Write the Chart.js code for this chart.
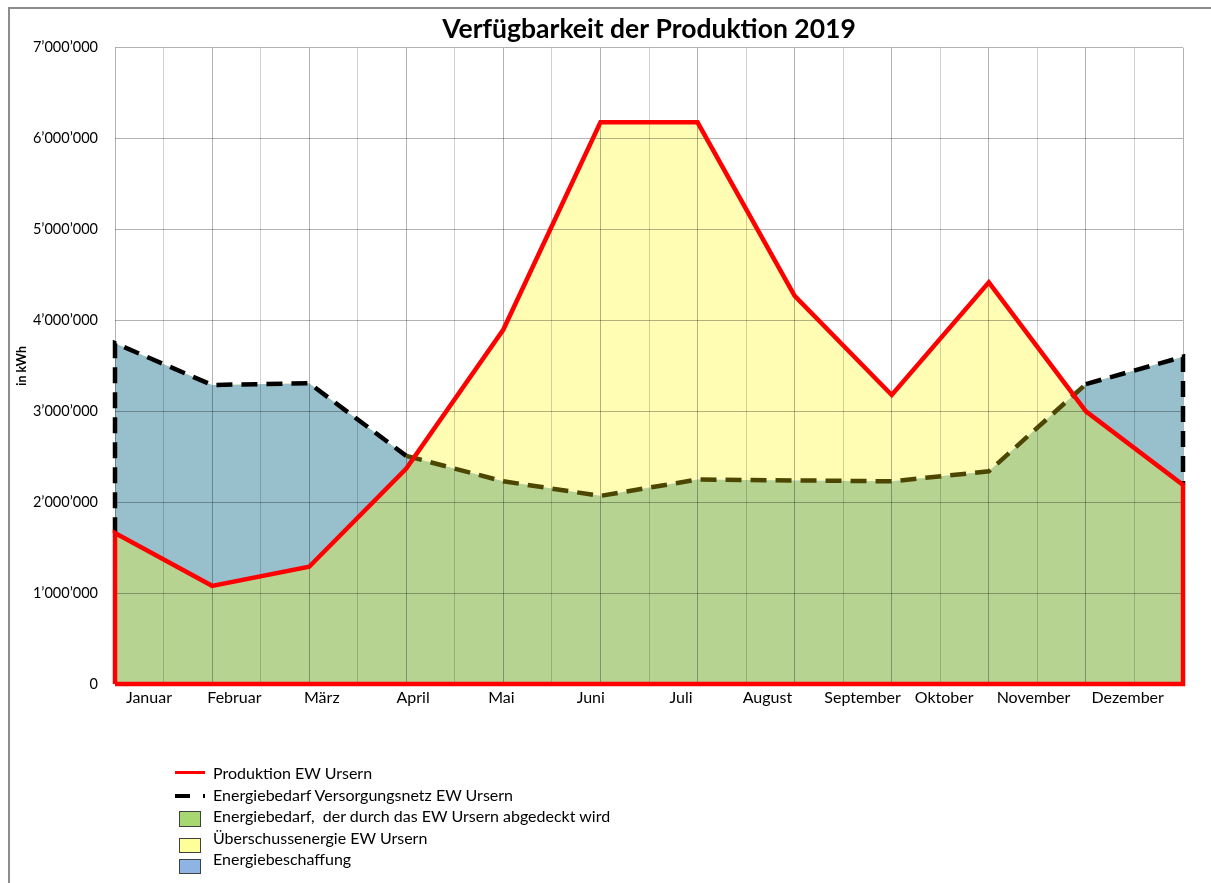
<!DOCTYPE html>
<html>
<head>
<meta charset="utf-8">
<script src="https://cdn.jsdelivr.net/npm/chart.js@4.4.1/dist/chart.umd.min.js"></script>
<style>
  html, body { margin: 0; padding: 0; background: #fff; }
  body { width: 1211px; height: 883px; position: relative; overflow: hidden; font-family: Lato, sans-serif; }
  #rahmen { position: absolute; left: 8px; top: 7px; width: 1300px; height: 1000px;
            border-left: 2px solid #8c8c8c; border-top: 2px solid #8c8c8c; }
  #wrap { position: absolute; left: 0; top: 0; width: 1211px; height: 883px; }
  .txt { position: absolute; left: 213px; font-size: 16px; line-height: 18px; color: #000; white-space: pre; }
  .sym { position: absolute; }
  .box { position: absolute; left: 179px; width: 20px; height: 14px; border: 1px solid #404040; }
</style>
</head>
<body>
<div id="rahmen"></div>
<div id="wrap"><canvas id="grafik" width="1211" height="883"></canvas></div>

<div class="sym" style="left:175px; top:771px; width:30px; height:3px; background:#ff0000;"></div>
<div class="txt" style="top:764px;">Produktion EW Ursern</div>

<div class="sym" style="left:175px; top:794px; width:15px; height:4px; background:#000;"></div>
<div class="sym" style="left:203px; top:794px; width:2px; height:4px; background:#000;"></div>
<div class="txt" style="top:786px;">Energiebedarf Versorgungsnetz EW Ursern</div>

<div class="box" style="top:811px; background:#a6d770;"></div>
<div class="txt" style="top:807px;">Energiebedarf,  der durch das EW Ursern abgedeckt wird</div>

<div class="box" style="top:838px; height:13px; background:#ffff99;"></div>
<div class="txt" style="top:829px;">Überschussenergie EW Ursern</div>

<div class="box" style="top:859px; height:13px; background:#8db4e2;"></div>
<div class="txt" style="top:850px;">Energiebeschaffung</div>

<script>
const monate = ["Januar", "Februar", "März", "April", "Mai", "Juni", "Juli",
  "August", "September", "Oktober", "November", "Dezember"];
// Produktion EW Ursern in kWh
const produktion = [1660000, 1080000, 1290000, 2370000, 3900000, 6180000,
  6180000, 4270000, 3180000, 4420000, 3000000, 2190000];
// Energiebedarf Versorgungsnetz in kWh
const bedarf = [3750000, 3290000, 3310000, 2510000, 2230000, 2070000,
  2250000, 2240000, 2230000, 2340000, 3300000, 3600000];
// wo die Monatsnamen unter der Achse stehen (in Monatsschritten)
const monatLabelPos = [0.35, 1.23, 2.13, 3.07, 3.98, 4.90, 5.83, 6.72, 7.70, 8.54, 9.46, 10.43];
const yMax = 7000000;
const yStep = 1000000;

const schrift = "Lato, 'Liberation Sans', sans-serif";
const n = monate.length - 1;
const punkte = arr => arr.map((v, i) => ({ x: i, y: v }));

// Umrandung wie im Excel-Flächendiagramm
const prodRand = [{ x: 0, y: 0 }, ...punkte(produktion), { x: n, y: 0 }, { x: 0, y: 0 }];
const bedarfRand = [{ x: 0, y: produktion[0] }, ...punkte(bedarf), { x: n, y: produktion[n] }];

function tausender(v) {
  return String(v).replace(/\B(?=(\d{3})+(?!\d))/g, "\u2019");
}

function strichFarbe(ctx) {
  const a = ctx.p0DataIndex - 1, b = ctx.p1DataIndex - 1;
  if (a < 0 || b > n) return "#000";
  return (produktion[a] > bedarf[a] || produktion[b] > bedarf[b]) ? "#4d4600" : "#000";
}

new Chart(document.getElementById("grafik"), {
  type: "line",
  data: {
    datasets: [
      { label: "Produktion", data: prodRand, fill: false, borderColor: "#ff0000",
        borderWidth: 4.5, pointRadius: 0, tension: 0, clip: 6, order: 0 },
      { label: "Energiebedarf", data: bedarfRand, fill: false, borderColor: "#000",
        borderWidth: 4.5, borderDash: [16, 9], pointRadius: 0, tension: 0, clip: 6, order: 1,
        segment: { borderColor: strichFarbe } },
      // Fläche unter dem Bedarf (grün), wird vom Blau teilweise überdeckt
      { label: "gedeckt", data: punkte(bedarf), fill: "origin",
        backgroundColor: "#b6d392", borderWidth: 0, pointRadius: 0, order: 5 },
      // zwischen Produktion und Bedarf: gelb = Überschuss, blau = Beschaffung
      { label: "differenz", data: punkte(produktion),
        fill: { target: "-1", above: "#fffdb4", below: "#97c0cc" },
        borderWidth: 0, pointRadius: 0, order: 4 }
    ]
  },
  options: {
    responsive: false,
    animation: false,
    layout: { padding: { left: 0, right: 28, top: 0, bottom: 139 } },
    plugins: {
      legend: { display: false },
      tooltip: { enabled: false },
      filler: { drawTime: "beforeDraw" },
      title: {
        display: true, fullSize: false,
        text: "Verfügbarkeit der Produktion 2019",
        color: "#000",
        font: { family: schrift, size: 26.5, weight: "bold" },
        padding: { top: 14, bottom: 2 }
      }
    },
    scales: {
      x: {
        type: "linear", min: 0, max: n, position: "bottom",
        ticks: { display: false, stepSize: 0.5 },
        grid: { drawTicks: false, lineWidth: 1,
          color: ctx => (ctx.tick && ctx.tick.value % 1 === 0) ? "rgba(0,0,0,0.3)" : "rgba(0,0,0,0.18)" },
        border: { display: false },
        afterFit: s => { s.height = 0; }
      },
      xl: {
        type: "linear", min: 0, max: n, position: "bottom",
        afterBuildTicks: s => { s.ticks = monatLabelPos.map(v => ({ value: v })); },
        ticks: { autoSkip: false, maxRotation: 0, padding: 4, color: "#000",
          font: { family: schrift, size: 16 },
          callback: (v, i) => monate[i] },
        grid: { display: false, drawTicks: false },
        border: { display: false },
        afterFit: s => { s.height = 60; }
      },
      y: {
        min: 0, max: yMax,
        ticks: { stepSize: yStep, padding: 17, color: "#000",
          font: { family: schrift, size: 14.5 }, callback: v => tausender(v) },
        grid: { drawTicks: false, color: "rgba(0,0,0,0.3)", lineWidth: 1 },
        border: { display: false },
        title: { display: true, text: "in kWh", color: "#000",
          font: { family: schrift, size: 12.5, weight: "bold" }, padding: { top: 14, bottom: 0 } },
        afterFit: s => { s.width = 115; }
      }
    }
  }
});
</script>
</body>
</html>
